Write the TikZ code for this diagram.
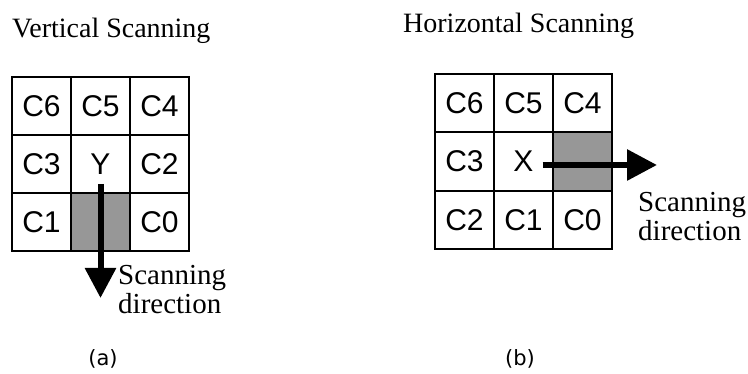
\documentclass[tikz,border=0pt]{standalone}
\usepackage{fontspec}
\setmainfont{Liberation Serif}
\newfontfamily\cellfont{Liberation Sans}
\newfontfamily\capfont{DejaVu Sans}
\usepackage{xcolor}
\usepackage{tikz}
\usetikzlibrary{arrows.meta}
\definecolor{scang}{HTML}{979797}
\tikzset{
  cell/.style={draw, line width=1.3pt, minimum width=59pt, minimum height=58pt, inner sep=0pt, outer sep=0pt, font=\cellfont\fontsize{30}{30}\selectfont},
  nextcell/.style={cell, fill=scang},
  scanarrow/.style={line width=6pt, -{Triangle[width=30pt,length=30pt]}},
  note/.style={inner sep=0pt, align=left, font=\fontsize{29}{29}\selectfont},
  title/.style={inner sep=0pt, anchor=base west, font=\fontsize{28}{28}\selectfont},
  sublabel/.style={inner sep=0pt, font=\capfont\fontsize{21}{21}\selectfont}
}
\begin{document}
\begin{tikzpicture}[x=1pt, y=-1pt]
  \useasboundingbox (0,0) rectangle (748,374);
  \node[title] (vtitle) at (12,38){Vertical Scanning};
  \node[title] (htitle) at (403,33){Horizontal Scanning};
  \node[cell] (v6) at (41.5,106){C6};
  \node[cell] (v5) at (100.5,106){C5};
  \node[cell] (v4) at (159.5,106){C4};
  \node[cell] (v3) at (41.5,164){C3};
  \node[cell] (vY) at (100.5,164){Y};
  \node[cell] (v2) at (159.5,164){C2};
  \node[cell] (v1) at (41.5,222){C1};
  \node[nextcell] (vn) at (100.5,222){};
  \node[cell] (v0) at (159.5,222){C0};
  \coordinate (vend) at (100.5,298);
  \draw[scanarrow, shorten <=20pt] (vY.center) -- (vend);
  \node[note, anchor=west] (vnote) at (118,290){Scanning\\direction};
  \node[cell] (h6) at (464.5,103){C6};
  \node[cell] (h5) at (523.5,103){C5};
  \node[cell] (h4) at (582.5,103){C4};
  \node[cell] (h3) at (464.5,161.5){C3};
  \node[cell] (hX) at (523.5,161.5){X};
  \node[nextcell] (hn) at (582.5,161.5){};
  \node[cell] (h2) at (464.5,220){C2};
  \node[cell] (h1) at (523.5,220){C1};
  \node[cell] (h0) at (582.5,220){C0};
  \coordinate (hend) at (657,165);
  \draw[scanarrow, shorten <=19pt] ([yshift=-3.5pt]hX.center) -- (hend);
  \node[note, anchor=west] (hnote) at (638,217){Scanning\\direction};
  \node[sublabel] (suba) at (103,359){(a)};
  \node[sublabel] (subb) at (520,359){(b)};
\end{tikzpicture}
\end{document}
